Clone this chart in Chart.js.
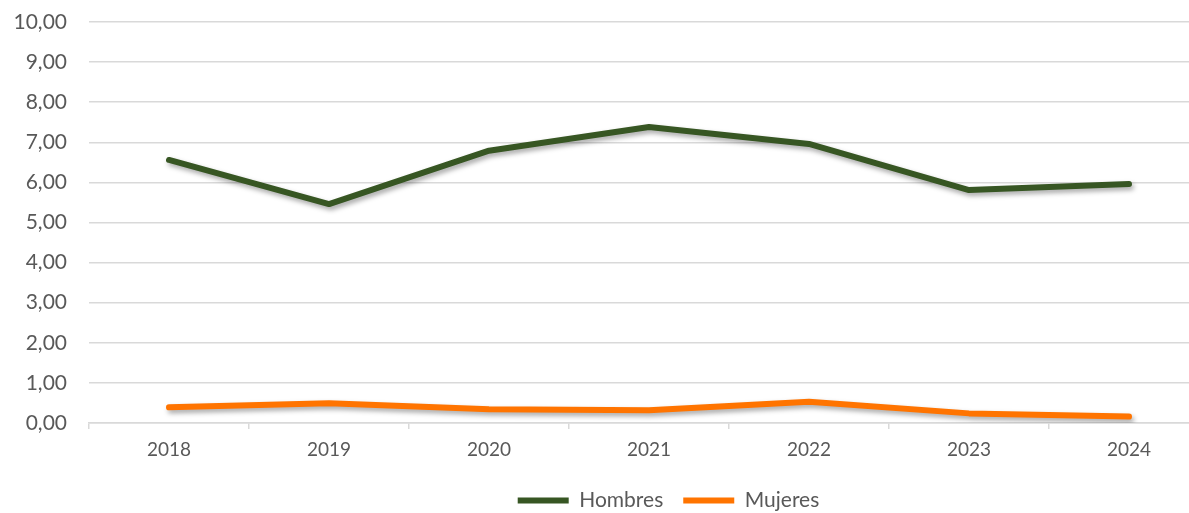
<!DOCTYPE html>
<html>
<head>
<meta charset="utf-8">
<script src="https://cdn.jsdelivr.net/npm/chart.js@4"></script>
<style>
  html, body { margin: 0; padding: 0; background: #fff; overflow: hidden; }
  #wrap { width: 1209px; height: 513px; }
</style>
</head>
<body>
<div id="wrap"><canvas id="chart" width="1209" height="513"></canvas></div>
<script>
// Data
const years = ['2018', '2019', '2020', '2021', '2022', '2023', '2024'];
const hombres = [6.56, 5.46, 6.79, 7.38, 6.96, 5.81, 5.96];
const mujeres = [0.39, 0.49, 0.34, 0.32, 0.53, 0.24, 0.16];

const textColor = '#595959';
const gridColor = '#d9d9d9';
const fontFamily = 'Lato, "Open Sans", sans-serif';

// Soft drop shadow under each line, like the Excel original
const lineShadow = {
  id: 'lineShadow',
  beforeDatasetDraw(chart) {
    const ctx = chart.ctx;
    ctx.save();
    ctx.shadowColor = 'rgba(0, 0, 0, 0.35)';
    ctx.shadowBlur = 5;
    ctx.shadowOffsetX = 2;
    ctx.shadowOffsetY = 3;
  },
  afterDatasetDraw(chart) {
    chart.ctx.restore();
  }
};

// Keep the legend box short and move it where the original one was
const legendTweak = {
  id: 'legendTweak',
  afterInit(chart) {
    const lg = chart.legend;
    if (!lg) return;
    const fit = lg.fit;
    lg.fit = function () {
      fit.call(this);
      this.height = 43;
    };
  },
  afterLayout(chart) {
    const lg = chart.legend;
    if (!lg) return;
    const dx = 64;
    lg.left += dx;
    lg.right += dx;
  }
};

new Chart(document.getElementById('chart'), {
  type: 'line',
  data: {
    labels: years,
    datasets: [
      {
        label: 'Hombres',
        data: hombres,
        borderColor: '#375623',
        backgroundColor: '#375623',
        borderWidth: 6,
        borderCapStyle: 'round',
        borderJoinStyle: 'round',
        pointRadius: 0,
        pointStyle: 'line',
        tension: 0
      },
      {
        label: 'Mujeres',
        data: mujeres,
        borderColor: '#ff7400',
        backgroundColor: '#ff7400',
        borderWidth: 6,
        borderCapStyle: 'round',
        borderJoinStyle: 'round',
        pointRadius: 0,
        pointStyle: 'line',
        tension: 0
      }
    ]
  },
  plugins: [lineShadow, legendTweak],
  options: {
    responsive: false,
    animation: false,
    layout: {
      padding: { top: 22, left: 0, right: 0, bottom: 0 }
    },
    scales: {
      x: {
        offset: true,
        afterFit: scale => {
          scale.height = 47;
          scale.paddingLeft = 0;
          scale.paddingRight = 0;
        },
        grid: {
          offset: true,
          drawOnChartArea: false,
          color: gridColor,
          lineWidth: 1.5,
          tickLength: 6
        },
        border: { display: true, color: gridColor, width: 1.5 },
        ticks: {
          color: textColor,
          padding: 9,
          font: { family: fontFamily, size: 19 }
        }
      },
      y: {
        min: 0,
        max: 10,
        afterFit: scale => {
          scale.width = 89;
          scale.paddingTop = 0;
          scale.paddingBottom = 0;
        },
        ticks: {
          stepSize: 1,
          color: textColor,
          padding: 22,
          font: { family: fontFamily, size: 21 },
          callback: v => v.toFixed(2).replace('.', ',')
        },
        grid: {
          color: gridColor,
          lineWidth: 1.5,
          drawTicks: false
        },
        border: { display: false }
      }
    },
    plugins: {
      legend: {
        position: 'bottom',
        labels: {
          usePointStyle: true,
          pointStyleWidth: 51,
          color: textColor,
          padding: 20,
          font: { family: fontFamily, size: 21 }
        }
      },
      tooltip: { enabled: false }
    }
  }
});
</script>
</body>
</html>
